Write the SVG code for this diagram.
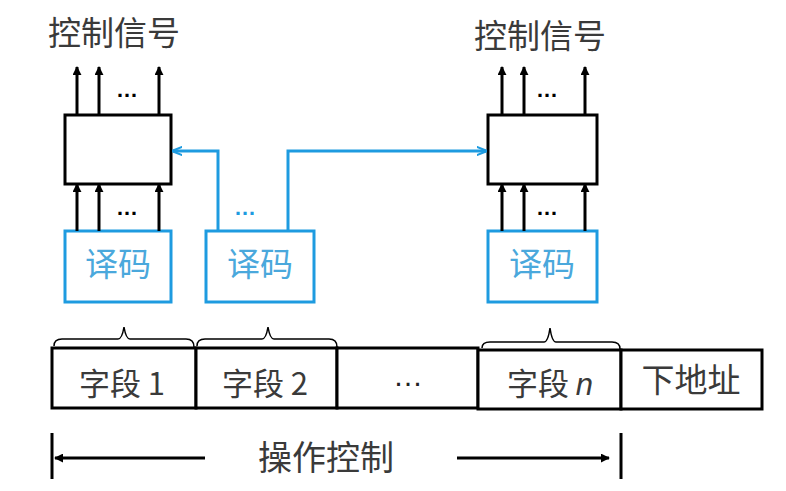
<svg xmlns="http://www.w3.org/2000/svg" width="786" height="491" viewBox="0 0 786 491">
<defs>
<marker id="ah" viewBox="0 0 10 10" refX="9" refY="5" markerWidth="3" markerHeight="3" orient="auto-start-reverse" markerUnits="strokeWidth"><path d="M0,0 L10,5 L0,10 z" fill="#000"/></marker>
<marker id="bh" viewBox="0 0 10 10" refX="9" refY="5" markerWidth="3.5" markerHeight="3.5" orient="auto" markerUnits="strokeWidth"><path d="M0,1 L10,5 L0,9" fill="none" stroke="#1e9be0" stroke-width="2"/></marker>
<style>
.t{font-family:"Noto Sans CJK SC","Liberation Sans",sans-serif;fill:#3a3a3a;text-anchor:middle}
.d{font-family:"Noto Sans CJK SC",sans-serif;fill:#4aa8dc;text-anchor:middle;font-size:33px}
.box{fill:#fff;stroke:#000;stroke-width:3}
.dec{fill:#fff;stroke:#1e9be0;stroke-width:3}
.ar{stroke:#000;stroke-width:3;fill:none;marker-end:url(#ah)}
.bl{stroke:#1e9be0;stroke-width:3;fill:none;marker-end:url(#bh)}
.dots{font-family:"Liberation Sans",sans-serif;font-weight:bold;font-size:22px;text-anchor:middle}
.f{fill:#fff;stroke:#000;stroke-width:3}
.br{fill:none;stroke:#000;stroke-width:1.5}
</style>
</defs>
<rect width="786" height="491" fill="#fff"/>

<g id="title-left"><text class="t" x="114" y="45" font-size="33">控制信号</text></g>
<g id="title-right"><text class="t" x="540" y="48" font-size="33">控制信号</text></g>

<g id="ctrl-left"><rect class="box" x="65" y="115" width="106" height="69"/></g>
<g id="ctrl-right"><rect class="box" x="488" y="115" width="109" height="69"/></g>

<g id="dec-left"><rect class="dec" x="65" y="231" width="106" height="71"/><text class="d" x="118" y="276">译码</text></g>
<g id="dec-mid"><rect class="dec" x="206" y="231" width="108" height="71"/><text class="d" x="260" y="276">译码</text></g>
<g id="dec-right"><rect class="dec" x="488" y="231" width="109" height="71"/><text class="d" x="542" y="276">译码</text></g>

<g id="connectors">
<path class="ar" d="M77,115 V67"/><path class="ar" d="M99,115 V67"/><path class="ar" d="M159,115 V67"/>
<path class="ar" d="M77,231 V184"/><path class="ar" d="M99,231 V184"/><path class="ar" d="M159,231 V184"/>
<path class="ar" d="M502,115 V67"/><path class="ar" d="M524,115 V67"/><path class="ar" d="M585,115 V67"/>
<path class="ar" d="M502,231 V184"/><path class="ar" d="M524,231 V184"/><path class="ar" d="M585,231 V184"/>
<path class="bl" d="M218,231 V151 H173"/>
<path class="bl" d="M288,231 V151 H486"/>
<text class="dots" x="127" y="97">…</text>
<text class="dots" x="127" y="215">…</text>
<text class="dots" x="547" y="97">…</text>
<text class="dots" x="547" y="215">…</text>
<text class="dots" x="245" y="215" fill="#1e9be0">…</text>
<path class="ar" d="M205,458 H55"/>
<path class="ar" d="M457,458 H609"/>
</g>

<g id="braces">
<path class="br" d="M54,346 Q54,339 62,339 H118 Q122,339 124,327 Q126,339 130,339 H186 Q194,339 194,347"/>
<path class="br" d="M197,346 Q197,339 205,339 H262 Q266,339 268,327 Q270,339 274,339 H329 Q337,339 337,347"/>
<path class="br" d="M482,348 Q482,342 490,342 H544 Q548,342 550,328 Q552,342 556,342 H612 Q620,342 620,349"/>
</g>

<g id="field-1"><rect class="f" x="52" y="348" width="144" height="60"/><text class="t" x="122" y="395" font-size="31">字段 1</text></g>
<g id="field-2"><rect class="f" x="196" y="348" width="141" height="60"/><text class="t" x="265" y="395" font-size="31">字段 2</text></g>
<g id="field-dots"><rect class="f" x="337" y="348" width="141" height="60"/><text x="408" y="386" font-family="Liberation Sans" font-size="30" text-anchor="middle" fill="#222">…</text></g>
<g id="field-n"><rect class="f" x="478" y="350" width="143" height="59"/><text class="t" x="550" y="395" font-size="31">字段 <tspan font-style="italic" font-family="Liberation Sans">n</tspan></text></g>
<g id="next-addr"><rect class="f" x="621" y="350" width="141" height="59"/><text class="t" x="691" y="392" font-size="33">下地址</text></g>

<g id="op-ctrl">
<path d="M52,433 V479 M621,433 V479" stroke="#000" stroke-width="3"/>
<text class="t" x="326" y="470" font-size="34">操作控制</text>
</g>
</svg>
